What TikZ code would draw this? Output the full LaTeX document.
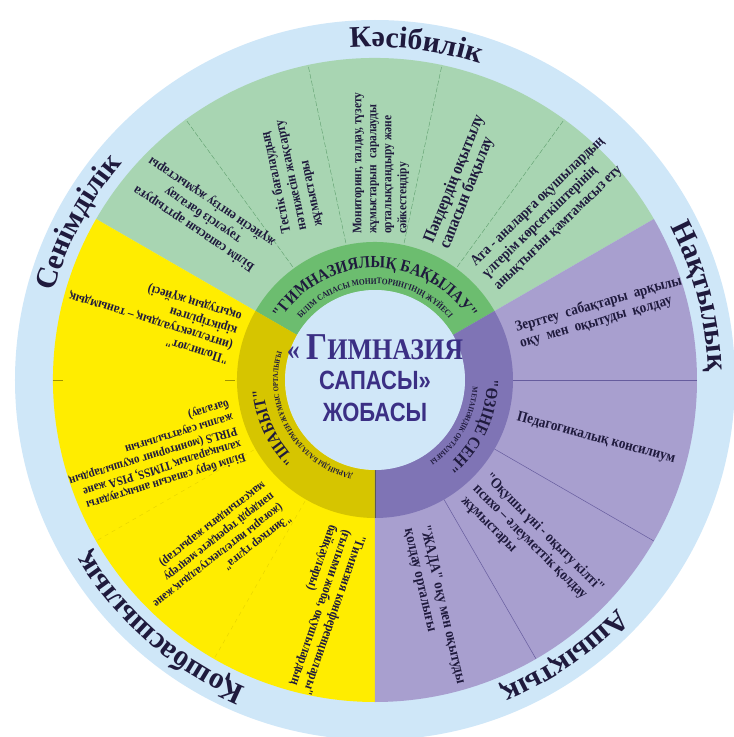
\documentclass[tikz,border=0pt]{standalone}
\usepackage{fontspec}
\setmainfont{Liberation Serif}
\newfontfamily\condf{Liberation Serif}[FakeStretch=0.88]
\newfontfamily\sansf{Liberation Sans}
\usetikzlibrary{decorations.text}
\definecolor{ringblue}{HTML}{CFE7F8}
\definecolor{lgreen}{HTML}{A8D5B2}
\definecolor{dgreen}{HTML}{6CBD6F}
\definecolor{lyellow}{HTML}{FFED00}
\definecolor{dyellow}{HTML}{D6C500}
\definecolor{lpurple}{HTML}{A89FCF}
\definecolor{dpurple}{HTML}{7F74B5}
\definecolor{cblue}{HTML}{D0E7F8}
\definecolor{navy}{HTML}{3B2F84}
\definecolor{ink}{HTML}{1F1A3D}
\definecolor{gline}{HTML}{5E9E6C}
\definecolor{pline}{HTML}{665C9E}
\definecolor{yline}{HTML}{E6D300}
\begin{document}
\begin{tikzpicture}[x=1pt,y=1pt,
  itm/.style={font=\condf\bfseries\fontsize{15}{16.5}\selectfont, text=ink, align=left, inner sep=0pt, anchor=west},
  itmy/.style={itm, font=\condf\bfseries\fontsize{13.5}{15}\selectfont},
  outerlbl/.style={decorate, decoration={text along path, text align=center,
     text={|\bfseries\fontsize{30}{30}\selectfont\color{ink}|#1}}},
  ringlbl/.style={decorate, decoration={text along path, text align=center,
     text={|\condf\bfseries\fontsize{17}{17}\selectfont\color{ink}|#1}}},
  sublbl/.style={decorate, decoration={text along path, text align=center,
     text={|\condf\bfseries\fontsize{7.5}{7.5}\selectfont\color{ink}|#1}}},
  sublblg/.style={decorate, decoration={text along path, text align=center,
     text={|\condf\bfseries\fontsize{8.5}{8.5}\selectfont\color{ink}|#1}}}
]
\useasboundingbox (-375,-357) rectangle (359,380);
% rings
\fill[ringblue] (0,0) circle[radius=360];
\fill[lgreen] (0,0) -- (30:322) arc[start angle=30,end angle=150,radius=322] -- cycle;
\fill[lyellow] (0,0) -- (150:322) arc[start angle=150,end angle=270,radius=322] -- cycle;
\fill[lpurple] (0,0) -- (270:322) arc[start angle=270,end angle=390,radius=322] -- cycle;
% dividers
\foreach \a in {54,78,102,126} \draw[gline, line width=0.4pt, dash pattern=on 5pt off 2pt] (\a:140) -- (\a:322);
\foreach \a in {0,-30,-60} \draw[pline, line width=0.5pt] (\a:138) -- (\a:322);
\foreach \a in {210,240} \draw[yline, line width=0.4pt, dash pattern=on 4pt off 4pt] (\a:140) -- (\a:322);
\draw[yline!70!black, line width=0.5pt] (180:140) -- (180:150) (180:312) -- (180:322);
% dark ring
\fill[dgreen] (30:138) arc[start angle=30,end angle=150,radius=138] -- (150:90) arc[start angle=150,end angle=30,radius=90] -- cycle;
\fill[dyellow] (150:138) arc[start angle=150,end angle=270,radius=138] -- (270:90) arc[start angle=270,end angle=150,radius=90] -- cycle;
\fill[dpurple] (270:138) arc[start angle=270,end angle=390,radius=138] -- (30:90) arc[start angle=30,end angle=-90,radius=90] -- cycle;
\draw[black!65, line width=0.6pt] (270:90) -- (270:138);
\fill[cblue] (0,0) circle[radius=90];
% centre title
\node[text=navy, font=\bfseries\fontsize{26}{26}\selectfont, inner sep=0pt] (c1) at (0,33) {\scalebox{1}[1.15]{« {\fontsize{33}{33}\selectfont Г}ИМНАЗИЯ}};
\node[text=navy, font=\sansf\bfseries\fontsize{22}{22}\selectfont, inner sep=0pt] (c2) at (0,0) {\scalebox{1}[1.2]{САПАСЫ»}};
\node[text=navy, font=\sansf\bfseries\fontsize{22}{22}\selectfont, inner sep=0pt] (c3) at (0,-32) {\scalebox{1}[1.2]{ЖОБАСЫ}};
% outer labels
\path[outerlbl=Кәсібилік] (113:333) arc[start angle=113,end angle=53,radius=333];
\path[outerlbl=Нақтылық] (45:333) arc[start angle=45,end angle=-16,radius=333];
\path[outerlbl=Ашықтық] (-25:333) arc[start angle=-25,end angle=-86,radius=333];
\path[outerlbl=Қошбасшылық] (264:333) arc[start angle=264,end angle=194,radius=333];
\path[outerlbl=Сенімділік] (187:333) arc[start angle=187,end angle=117,radius=333];
% ring labels
\path[ringlbl={"ГИМНАЗИЯЛЫҚ БАҚЫЛАУ"}] (170:112) arc[start angle=170,end angle=10,radius=112];
\path[sublblg={БІЛІМ САПАСЫ МОНИТОРИНГІНІҢ ЖҮЙЕСІ}] (165:96) arc[start angle=165,end angle=15,radius=96];
\path[ringlbl={"ӨЗІҢЕ СЕН"}] (45:112) arc[start angle=45,end angle=-95,radius=112];
\path[sublbl={МЕТАПӘНДІК ОРТАЛЫҒЫ}] (40:98) arc[start angle=40,end angle=-100,radius=98];
\path[ringlbl={"ШАБЫТ"}] (275:112) arc[start angle=275,end angle=135,radius=112];
\path[sublbl={ДАРЫНДЫ БАЛАЛАРМЕН ЖҰМЫС ОРТАЛЫҒЫ}] (280:97) arc[start angle=280,end angle=140,radius=97];
% green items
\node[itm, anchor=center, align=center, rotate=146, font=\condf\bfseries\fontsize{14}{16}\selectfont] (g1) at (-172,165) {Білім сапасын арттыруға\\тәуелсіз бағалау\\жүйесін енгізу жұмыстары};
\node[itm, rotate=102, font=\condf\bfseries\fontsize{14}{16}\selectfont] (g2) at (-72,150) {Тестік бағалаудың\\нәтижесін жақсарту\\жұмыстары};
\node[itm, rotate=90, font=\condf\bfseries\fontsize{13}{15}\selectfont] (g3) at (6,146) {Мониторинг, талдау, түзету\\жұмыстарын\ \ саралауды\\орталықтандыру және\\сәйкестендіру};
\node[itm, rotate=68, font=\condf\bfseries\fontsize{17}{17}\selectfont] (g4) at (62,135) {Пәндердің оқытылу\\сапасын бақылау};
\node[itm, rotate=44] (g5) at (110,104) {Ата - аналарға оқушылардың\\үлгерім көрсеткіштерінің\\анықтығын қамтамасыз ету};
% purple items
\node[itm, rotate=16] (p1) at (143,44) {Зерттеу\ \ сабақтары\ \ арқылы\\оқу\ \ мен\ \ оқытуды\ \ қолдау};
\node[itm, rotate=-15] (p2) at (142,-37) {Педагогикалық консилиум};
\node[itm, rotate=-45] (p3) at (100,-107) {"Оқушы үні - оқыту кілті"\\психо – әлеуметтік қолдау\\жұмыстары};
\node[itm, rotate=-77] (p4) at (41,-147) {"ЖАДА" оқу мен оқытуды\\қолдау орталығы};
% yellow items
\node[itmy, rotate=163] (y1) at (-140,42) {"Полиглот"\\(интеллектуалдық – танымдық\\кіріктірілген\\оқытудың жүйесі)};
\node[itmy, rotate=197, font=\condf\bfseries\fontsize{12.5}{14}\selectfont] (y2) at (-138,-50) {Білім беру сапасын анықтаудағы\\халықаралық TIMSS, PISA және\\PIRLS (мониторинг оқушылардың\\жалпы сауаттылығын\\бағалау)};
\node[itmy, rotate=218, font=\condf\bfseries\fontsize{12.5}{14}\selectfont] (y3) at (-98,-120) {"Зияткер тұлға"\\(жоғары интеллектуалдық және\\пәндерді тереңдете меңгеру\\мақсатындағы жарыстар)};
\node[itmy, rotate=251] (y4) at (-28,-150) {"Гимназия конференциялары"\\(ғылыми жоба, оқушылардың\\байқаулары)};
\end{tikzpicture}
\end{document}
